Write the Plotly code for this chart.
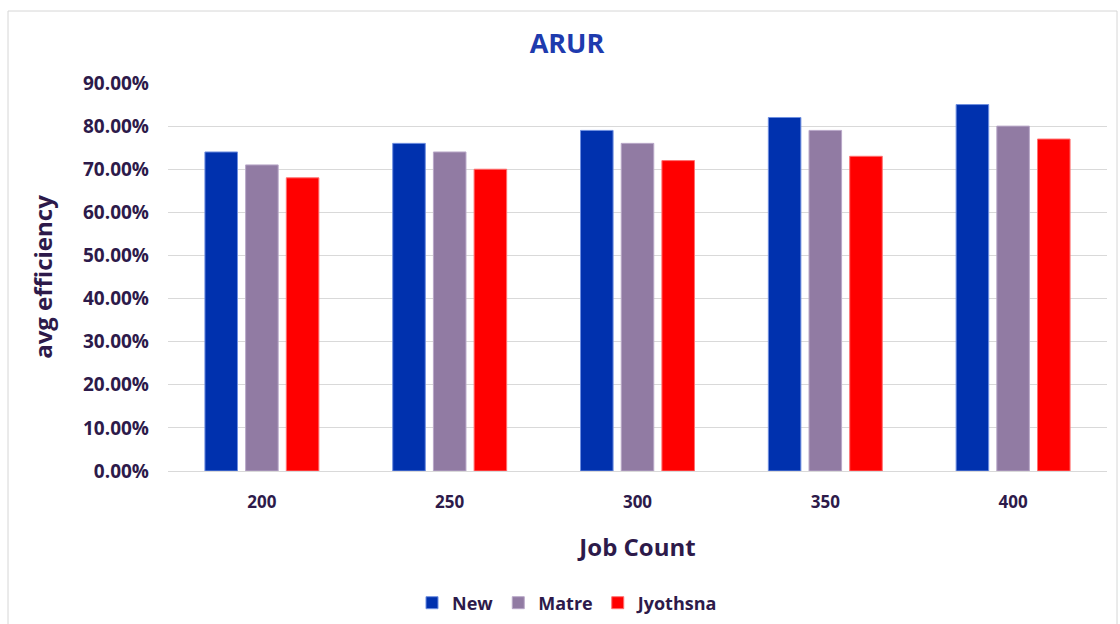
import plotly.graph_objects as go

job_counts = ["200", "250", "300", "350", "400"]
new_eff = [0.74, 0.76, 0.79, 0.82, 0.85]
matre_eff = [0.71, 0.74, 0.76, 0.79, 0.80]
jyothsna_eff = [0.68, 0.70, 0.72, 0.73, 0.77]

series = [
    ("New", new_eff, "#0031AE", "#6F8FE0"),
    ("Matre", matre_eff, "#917BA3", "#B9A8C8"),
    ("Jyothsna", jyothsna_eff, "#FF0000", "#FF7070"),
]

TEXT = "#2D1A4A"
FONT = "Open Sans"

fig = go.Figure()
for name, vals, color, edge in series:
    fig.add_trace(go.Bar(
        x=job_counts,
        y=vals,
        name=name,
        marker=dict(color=color, line=dict(color=edge, width=1)),
    ))

fig.update_layout(
    width=1120,
    height=624,
    barmode="group",
    bargap=0.35,
    bargroupgap=0.2,
    plot_bgcolor="white",
    paper_bgcolor="white",
    margin=dict(l=168, r=13, t=83, b=153, autoexpand=False),
    font=dict(family=FONT, color=TEXT),
    title=dict(
        text="ARUR",
        font=dict(size=27, color="#1E3BAE", family=FONT, weight="bold"),
        x=567 / 1120,
        xanchor="center",
        y=1 - 44 / 624,
        yanchor="middle",
    ),
    xaxis=dict(
        title=dict(text="Job Count", font=dict(size=24, weight="bold", color=TEXT), standoff=27),
        tickfont=dict(size=17, weight="bold", color=TEXT),
        showgrid=False,
        showline=False,
        ticks="",
        ticklabelstandoff=19,
        automargin=False,
    ),
    yaxis=dict(
        title=dict(text="avg efficiency", font=dict(size=24, weight="bold", color=TEXT), standoff=23),
        tickfont=dict(size=19, weight="bold", color=TEXT),
        tickformat=".2%",
        range=[0, 0.9],
        dtick=0.1,
        showgrid=True,
        gridcolor="#D9D9D9",
        gridwidth=1,
        zeroline=True,
        zerolinecolor="#D9D9D9",
        zerolinewidth=1,
        ticklabelstandoff=18,
        automargin=False,
    ),
    legend=dict(
        orientation="h",
        x=(568 - 168) / 939,
        xanchor="center",
        yref="container",
        y=1 - 603 / 624,
        yanchor="middle",
        font=dict(size=18, weight="bold", color=TEXT),
        itemwidth=30,
        traceorder="normal",
    ),
    shapes=[
        dict(
            type="rect",
            xref="paper",
            yref="paper",
            x0=(8 - 168) / 939,
            x1=(1117 - 168) / 939,
            y0=(471 - 640) / 388,
            y1=1 + (83 - 11) / 388,
            line=dict(color="#D6D6D6", width=1),
            layer="below",
        )
    ],
)

fig.write_html(
    "out.html",
    config={"displayModeBar": False},
    post_script="document.body.style.margin='0';",
)
